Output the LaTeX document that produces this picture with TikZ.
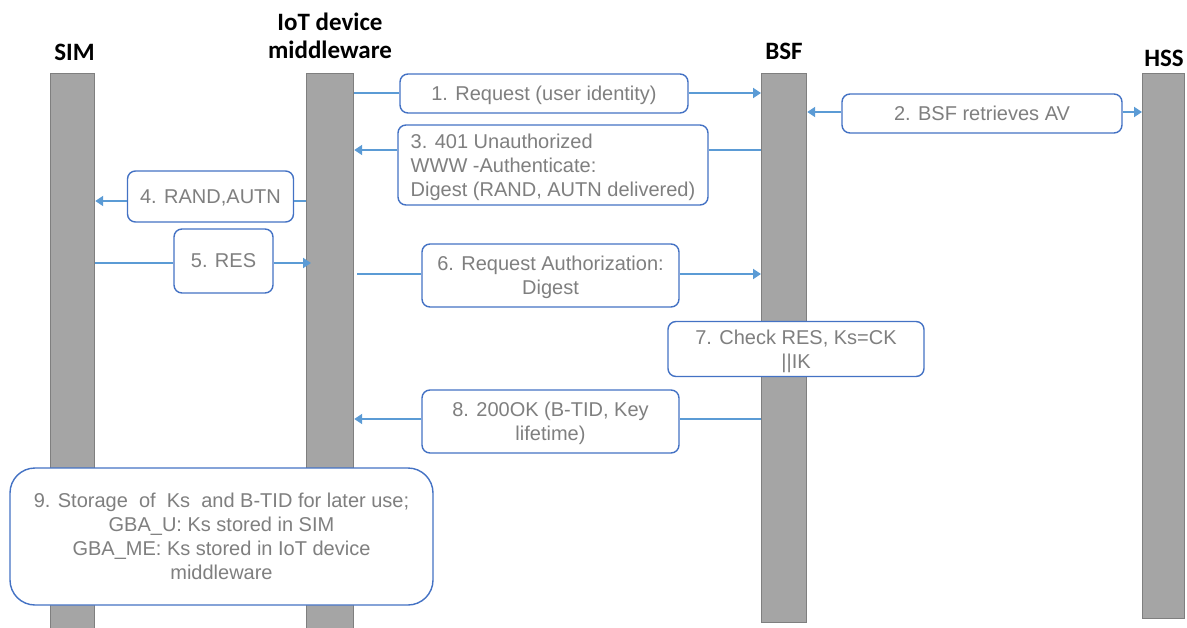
\documentclass[tikz,border=0pt]{standalone}
\usepackage{fontspec}
\setmainfont{Liberation Sans}
\newfontfamily\headfont{Carlito}
\usetikzlibrary{arrows.meta}
\definecolor{bargray}{HTML}{A5A5A5}
\definecolor{barline}{HTML}{7F7F7F}
\definecolor{boxblue}{HTML}{4472C4}
\definecolor{linkblue}{HTML}{5B9BD5}
\definecolor{txtgray}{HTML}{7F7F7F}

\begin{document}
\begin{tikzpicture}[x=1pt,y=-1pt,
  lifeline/.style={draw=barline, fill=bargray, line width=1.2pt, inner sep=0pt, anchor=north west},
  head/.style={font=\headfont\bfseries\fontsize{25}{28}\selectfont, align=center},
  msg/.style={draw=boxblue, fill=white, line width=1.4pt, rounded corners=8pt,
    font=\fontsize{20}{24}\selectfont, text=txtgray, align=center, inner sep=0pt,
    text depth=0pt},
  link/.style={draw=linkblue, line width=2.2pt},
  tip/.style={link, -{Triangle[length=8pt,width=10pt]}},
]
\useasboundingbox (0,0) rectangle (1187,627);

% lifelines
\node[lifeline, minimum width=44pt, minimum height=560pt] (sim) at (50,73) {};
\node[lifeline, minimum width=47pt, minimum height=560pt] (iot) at (306,73) {};
\node[lifeline, minimum width=45pt, minimum height=549pt] (bsf) at (761,73) {};
\node[lifeline, minimum width=42pt, minimum height=545pt] (hss) at (1142,73) {};

% headings
\node[head, anchor=base] (simh) at (74.5,60) {SIM};
\node[head] (ioth) at (330,36) {IoT device\\middleware};
\node[head, anchor=base] (bsfh) at (784,59) {BSF};
\node[head, anchor=base] (hssh) at (1164,66) {HSS};

% message boxes
\node[msg, minimum width=288pt, minimum height=39pt] (m1) at (544,93.5) {1. Request (user identity)};
\node[msg, minimum width=280pt, minimum height=39pt] (m2) at (982,113.5) {2. BSF retrieves AV};
\node[msg, minimum width=310pt, minimum height=80pt, align=left] (m3) at (553,165)
  {3. 401 Unauthorized\\WWW -Authenticate:\\Digest (RAND, AUTN delivered)};
\node[msg, minimum width=166pt, minimum height=51pt] (m4) at (210.5,196.5) {4. RAND,AUTN};
\node[msg, minimum width=99pt, minimum height=64pt] (m5) at (223.5,261) {5. RES};
\node[msg, minimum width=257pt, minimum height=63pt] (m6) at (550.5,275.5)
  {6. Request Authorization:\\Digest};
\node[msg, minimum width=256pt, minimum height=55pt] (m7) at (796,349)
  {7. Check RES, Ks=CK\\||IK};
\node[msg, minimum width=257pt, minimum height=63pt] (m8) at (550.5,421.5)
  {8. 200OK (B-TID, Key\\lifetime)};
\node[msg, rounded corners=25pt, minimum width=423pt, minimum height=137pt] (m9) at (221.5,536.5)
  {9. Storage\ \ of\ \ Ks\ \ and B-TID for later use;\\GBA\_U: Ks stored in SIM\\GBA\_ME: Ks stored in IoT device\\middleware};

% message levels
\coordinate (y1) at (0,93);
\coordinate (y2) at (0,112);
\coordinate (y3) at (0,150);
\coordinate (y4) at (0,201);
\coordinate (y5) at (0,263);
\coordinate (y6) at (0,274);
\coordinate (y8) at (0,419);

% connectors
\draw[link] (iot.east |- y1) -- (m1.west |- y1);
\draw[tip] (m1.east |- y1) -- (bsf.west |- y1);

\draw[tip] (m2.west |- y2) -- (bsf.east |- y2);
\draw[tip] (m2.east |- y2) -- (hss.west |- y2);

\draw[link] (bsf.west |- y3) -- (m3.east |- y3);
\draw[tip] (m3.west |- y3) -- (iot.east |- y3);

\draw[link] (iot.west |- y4) -- (m4.east |- y4);
\draw[tip] (m4.west |- y4) -- (sim.east |- y4);

\draw[link] (sim.east |- y5) -- (m5.west |- y5);
\draw[tip] (m5.east |- y5) -- ([xshift=5pt]iot.west |- y5);

\draw[link] ([xshift=3pt]iot.east |- y6) -- (m6.west |- y6);
\draw[tip] (m6.east |- y6) -- (bsf.west |- y6);

\draw[link] (bsf.west |- y8) -- (m8.east |- y8);
\draw[tip] (m8.west |- y8) -- (iot.east |- y8);
\end{tikzpicture}
\end{document}
